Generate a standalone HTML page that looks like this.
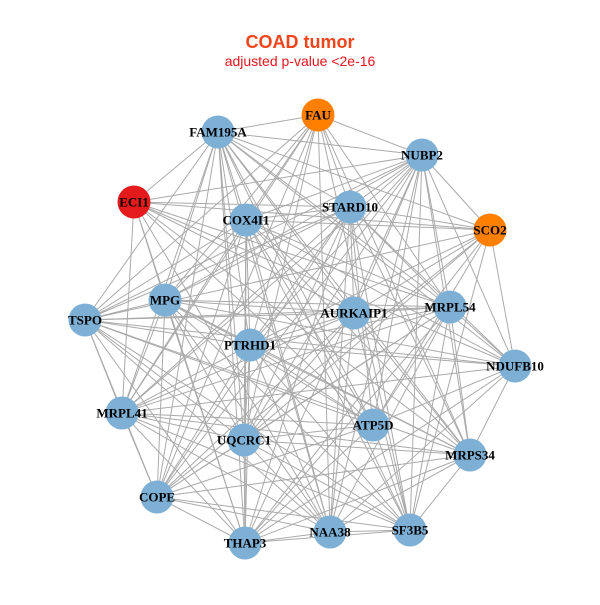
<!DOCTYPE html>
<html><head><meta charset="utf-8"><style>
body{margin:0;background:#fff}
svg text{font-family:"Liberation Serif",serif;font-weight:bold;font-size:13px;text-anchor:middle;dominant-baseline:central}
</style></head><body>
<svg id="s" width="600" height="600" xmlns="http://www.w3.org/2000/svg">
<rect width="600" height="600" fill="#fff"/>
<text x="300" y="42" style="font-family:'Liberation Sans',sans-serif;font-size:18px;fill:#f0441a">COAD tumor</text>
<text x="300" y="61" style="font-family:'Liberation Sans',sans-serif;font-weight:normal;font-size:14px;fill:#e8141c">adjusted p-value &lt;2e-16</text>
<g id="e" stroke="#aaaaaa" stroke-width="1"></g>
<g id="n"></g>
</svg>
<script>
var N=[["FAU",318,115,"#ff7f00"],["FAM195A",218,132],["NUBP2",422,155],["ECI1",134,202,"#e41a1c"],["STARD10",350,207],["COX4I1",246,220],["SCO2",490,230,"#ff7f00"],["MPG",165,300],["TSPO",85,320],["AURKAIP1",354,313],["MRPL54",450,307],["PTRHD1",250,345],["NDUFB10",515,366],["MRPL41",122,413],["UQCRC1",244,440],["ATP5D",373,425],["MRPS34",470,455],["COPE",157,497],["THAP3",245,543],["NAA38",330,532],["SF3B5",410,530]];
var e=document.getElementById("e"),g=document.getElementById("n"),h="";
for(var i=0;i<N.length;i++)for(var j=i+1;j<N.length;j++){if((i*7+j*3)%9==0)continue;h+='<line x1="'+N[i][1]+'" y1="'+N[i][2]+'" x2="'+N[j][1]+'" y2="'+N[j][2]+'"/>';}
e.innerHTML=h;h="";
N.forEach(function(d){h+='<circle cx="'+d[1]+'" cy="'+d[2]+'" r="16.5" fill="'+(d[3]||"#7eb0d5")+'"/>';});
N.forEach(function(d){h+='<text x="'+d[1]+'" y="'+d[2]+'">'+d[0]+'</text>';});
g.innerHTML=h;
</script>
</body></html>
